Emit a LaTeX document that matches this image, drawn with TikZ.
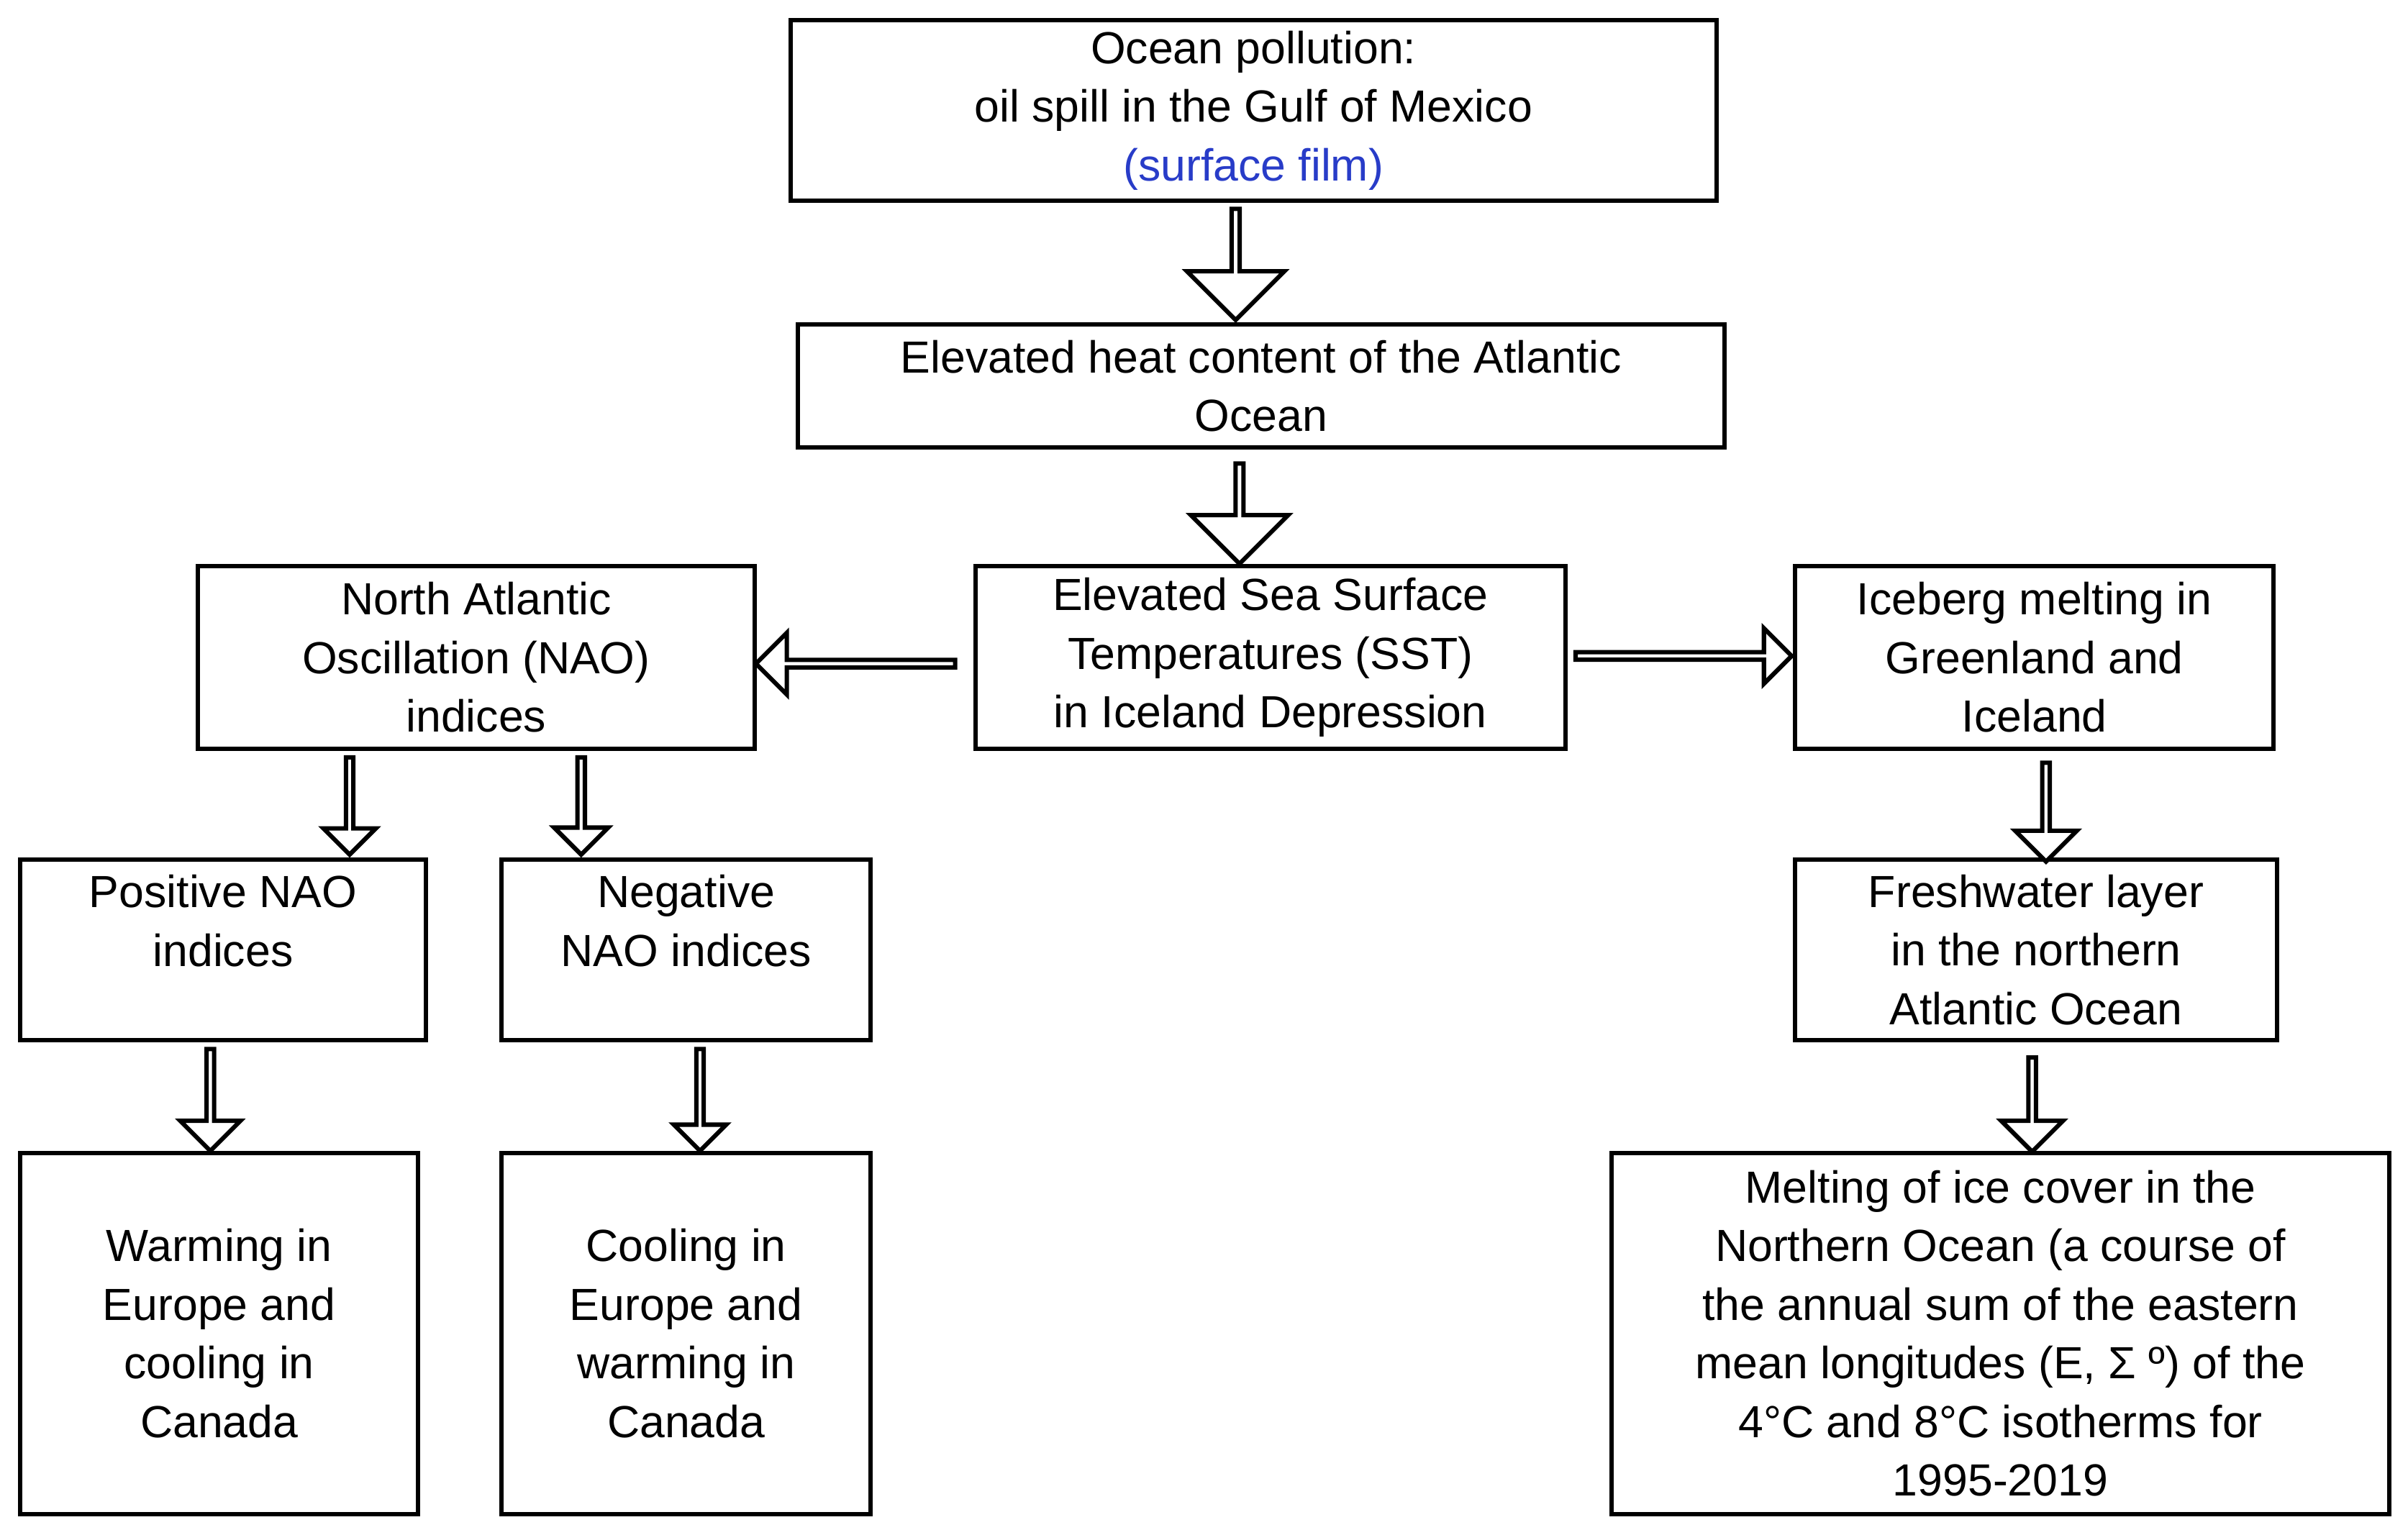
\documentclass[tikz,border=0pt]{standalone}
\usepackage{fontspec}
\setmainfont{Liberation Sans}
\usetikzlibrary{calc,positioning,shapes.arrows}
\definecolor{filmblue}{RGB}{40,60,200}

\tikzset{
  box/.style={draw, thick, align=center, inner sep=0pt,
    font=\fontsize{8.3pt}{10.8pt}\selectfont},
  fat/.style={single arrow, draw, thick, fill=white, inner sep=0pt,
    minimum width=#1, single arrow head extend=0.25*#1},
  fat/.default=6.3mm
}

\begin{document}
\begin{tikzpicture}[x=0.1mm, y=-0.1mm]
        \useasboundingbox (0,0) rectangle (1560,991);
        % boxes
        \node[box, minimum width=60mm, minimum height=11.7mm] (pollution) at (812,71.5)
          {Ocean pollution:\\oil spill in the Gulf of Mexico\\{\color{filmblue}(surface film)}};
        \node[box, minimum width=60mm, minimum height=8mm] (heat) at (817,250)
          {Elevated heat content of the Atlantic\\Ocean};
        \node[box, minimum width=38.2mm, minimum height=11.8mm] (sst) at (823,426)
          {Elevated Sea Surface\\Temperatures (SST)\\in Iceland Depression};
        \node[box, minimum width=36.1mm, minimum height=11.8mm] (nao) at (308.5,426)
          {North Atlantic\\Oscillation (NAO)\\indices};
        \node[box, minimum width=31mm, minimum height=11.8mm] (ice) at (1318,426)
          {Iceberg melting in\\Greenland and\\Iceland};
        \node[box, minimum width=26.3mm, minimum height=11.7mm] (pos) at (144.5,615.5)
          {Positive NAO\\indices\\\mbox{}};
        \node[box, minimum width=23.9mm, minimum height=11.7mm] (neg) at (444.5,615.5)
          {Negative\\NAO indices\\\mbox{}};
        \node[box, minimum width=31.2mm, minimum height=11.7mm] (fresh) at (1319,615.5)
          {Freshwater layer\\in the northern\\Atlantic Ocean};
        \node[box, minimum width=25.8mm, minimum height=23.4mm] (warm) at (142,864)
          {Warming in\\Europe and\\cooling in\\Canada};
        \node[box, minimum width=23.9mm, minimum height=23.4mm] (cool) at (444.5,864)
          {Cooling in\\Europe and\\warming in\\Canada};
        \node[box, minimum width=50.4mm, minimum height=23.4mm] (melt) at (1296,864)
          {Melting of ice cover in the\\Northern Ocean (a course of\\the annual sum of the eastern\\mean longitudes (E, Σ º) of the\\4°C and 8°C isotherms for\\1995-2019};

        % fat arrows
        \node[fat, minimum height=7.2mm, rotate=-90] at ($(pollution.south)!0.5!(heat.north)+(-14,0)$) {};
        \node[fat, minimum height=6.5mm, rotate=-90] at ($(heat.south)!0.5!(sst.north)+(-17,3)$) {};
        \node[fat=4mm, minimum height=12.9mm, rotate=180] at ($(sst.west)!0.5!(nao.east)+(-5,4)$) {};
        \node[fat=3.6mm, minimum height=14mm] at ($(sst.east)!0.5!(ice.west)+(1,-1)$) {};
        \node[fat=3.4mm, minimum height=6.3mm, rotate=-90] at ($(nao.south)!0.5!(pos.north)+(0,0)$) {};
        \node[fat=3.5mm, minimum height=6.3mm, rotate=-90] at ($(nao.south)!0.5!(neg.north)+(0,0)$) {};
        \node[fat=3.9mm, minimum height=6.6mm, rotate=-90] at ($(pos.south)!0.5!(warm.north)+(-7,1)$) {};
        \node[fat=3.4mm, minimum height=6.6mm, rotate=-90] at ($(neg.south)!0.5!(cool.north)+(9,1)$) {};
        \node[fat=4mm, minimum height=6.4mm, rotate=-90] at ($(ice.south)!0.5!(fresh.north)+(7,4)$) {};
        \node[fat=4mm, minimum height=6.1mm, rotate=-90] at ($(fresh.south)!0.5!(melt.north)+(9,4)$) {};
\end{tikzpicture}
\end{document}
